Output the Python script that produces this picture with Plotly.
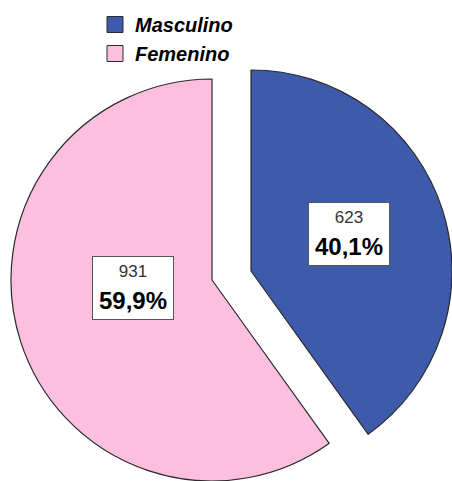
import plotly.graph_objects as go

# Sexo de los participantes
categories = ["Masculino", "Femenino"]
counts = [623, 931]
colors = ["#3e5aab", "#fdbfdf"]

EDGE = "#2b2b2b"
CLEAR = "rgba(0,0,0,0)"
FONT = "Liberation Sans"

W, H = 452, 481
total = sum(counts)


def pct_text(v):
    return f"{100 * v / total:.1f}".replace(".", ",") + "%"


def domain(cx, cy, r):
    """Square pie domain (paper fractions) around a pixel centre."""
    return dict(x=[(cx - r) / W, (cx + r) / W],
                y=[(H - cy - r) / H, (H - cy + r) / H])


R = 201
# each slice gets its own trace so the male slice can sit exploded
slice_centres = {"Femenino": (212, 280), "Masculino": (251, 271)}

fig = go.Figure()
for cat in ["Femenino", "Masculino"]:
    k = categories.index(cat)
    fill = [colors[i] if i == k else CLEAR for i in range(len(categories))]
    line = [EDGE if i == k else CLEAR for i in range(len(categories))]
    fig.add_trace(go.Pie(
        labels=categories, values=counts, sort=False,
        direction="clockwise", rotation=0,
        marker=dict(colors=fill, line=dict(color=line, width=1.2)),
        textinfo="none", showlegend=False,
        hovertemplate="%{label}: %{value}<extra></extra>",
        domain=domain(*slice_centres[cat], R),
    ))

# legend entries
for cat, col in zip(categories, colors):
    fig.add_trace(go.Scatter(
        x=[None], y=[None], mode="markers", name=cat,
        marker=dict(symbol="square", size=16, color=col,
                    line=dict(color=EDGE, width=1)),
    ))

# value boxes
label_pos = {"Masculino": (349, 234), "Femenino": (133, 288)}
for cat, v in zip(categories, counts):
    px, py = label_pos[cat]
    fig.add_annotation(
        x=px / W, y=1 - py / H, xref="paper", yref="paper",
        xanchor="center", yanchor="middle",
        showarrow=False,
        text=(f"<span style='font-size:17px;color:#333333'>{v}</span><br>"
              f"<b>{pct_text(v)}</b>"),
        font=dict(family=FONT, size=24, color="#000000"),
        width=76, height=58, borderpad=2, borderwidth=1,
        bordercolor="#555555", bgcolor="#ffffff",
        align="center", valign="middle",
    )

fig.update_layout(
    width=W, height=H,
    margin=dict(l=0, r=0, t=0, b=0),
    paper_bgcolor="#ffffff", plot_bgcolor="#ffffff",
    xaxis=dict(visible=False), yaxis=dict(visible=False),
    showlegend=True,
    legend=dict(
        x=95 / W, y=1 - 5 / H, xanchor="left", yanchor="top",
        bgcolor=CLEAR, borderwidth=0, tracegroupgap=0,
        font=dict(family=FONT, size=20, weight="bold", style="italic",
                  color="#000000"),
    ),
)

fig.write_html("out.html")
